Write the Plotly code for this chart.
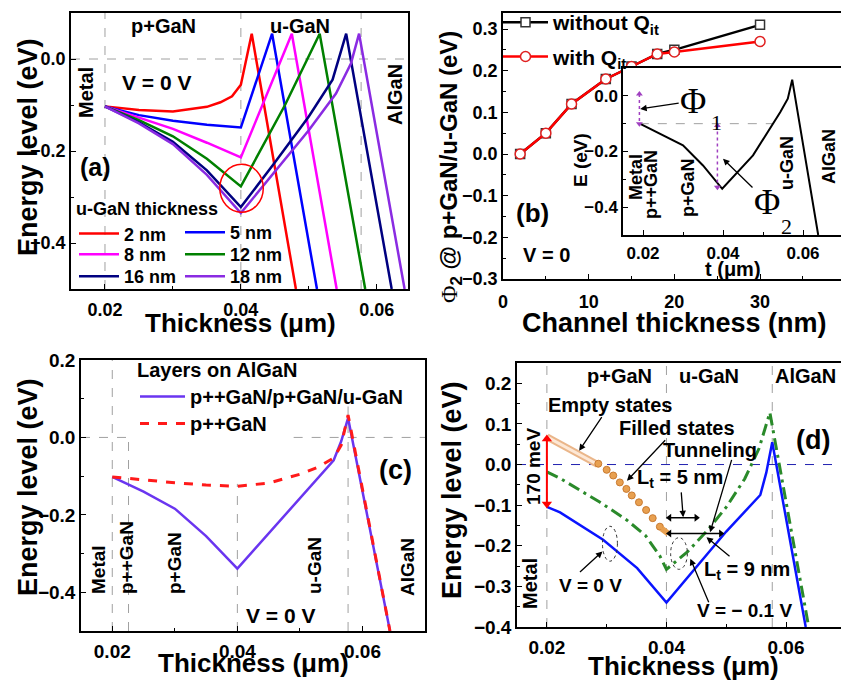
import plotly.graph_objects as go

W, H = 841, 681
FONT = "Liberation Sans, Arial, Helvetica, sans-serif"
SERIF = "Liberation Serif, Times New Roman, serif"

# ---------------- panel (a): band diagrams vs u-GaN thickness ----------------
a_x_2nm = [0.02, 0.025, 0.03, 0.035, 0.037, 0.0387, 0.04, 0.0416, 0.0481]
a_y_2nm = [-0.103, -0.111, -0.114, -0.104, -0.094, -0.081, -0.056, 0.055, -0.5]
a_x_5nm = [0.02, 0.025, 0.03, 0.035, 0.04, 0.0446, 0.0512]
a_y_5nm = [-0.103, -0.122, -0.134, -0.143, -0.149, 0.055, -0.5]
a_x_8nm = [0.02, 0.025, 0.03, 0.035, 0.04, 0.0475, 0.0541]
a_y_8nm = [-0.103, -0.127, -0.152, -0.182, -0.214, 0.055, -0.5]
a_x_12nm = [0.02, 0.025, 0.03, 0.035, 0.04, 0.0465, 0.0516, 0.0583]
a_y_12nm = [-0.103, -0.133, -0.168, -0.217, -0.277, -0.1, 0.055, -0.5]
a_x_16nm = [0.02, 0.025, 0.03, 0.035, 0.04, 0.045, 0.05, 0.0535, 0.0555, 0.0622]
a_y_16nm = [-0.103, -0.138, -0.18, -0.242, -0.322, -0.225, -0.125, -0.045, 0.055, -0.5]
a_x_18nm = [0.02, 0.025, 0.03, 0.035, 0.04, 0.045, 0.05, 0.054, 0.0562, 0.0574, 0.0641]
a_y_18nm = [-0.103, -0.14, -0.185, -0.252, -0.335, -0.245, -0.155, -0.075, -0.01, 0.055, -0.5]
a_labels = ["2 nm", "5 nm", "8 nm", "12 nm", "16 nm", "18 nm"]
a_colors = ["#ff0000", "#0000ff", "#ff00ff", "#008000", "#000080", "#8a2be2"]
a_boundaries = [0.02, 0.04, 0.0577]

# ---------------- panel (b): barrier vs channel thickness ----------------
b_thickness = [2, 5, 8, 12, 15, 18, 20, 30]
b_without_qit = [0.0, 0.05, 0.12, 0.18, 0.21, 0.24, 0.25, 0.31]
b_with_qit = [0.0, 0.05, 0.12, 0.18, 0.21, 0.24, 0.245, 0.27]

# inset of (b)
i_x = [0.0192, 0.0226, 0.03, 0.035, 0.0398, 0.0475, 0.0543, 0.0562, 0.0573, 0.0638]
i_y = [-0.1, -0.125, -0.178, -0.25, -0.334, -0.214, -0.059, -0.01, 0.058, -0.5]
i_boundaries = [0.0192, 0.0226, 0.04, 0.0573]
i_phi1_x = [0.0191, 0.0191]
i_phi1_y = [0.007, -0.1]
i_phi2_x = [0.0386, 0.0386]
i_phi2_y = [-0.107, -0.328]

# ---------------- panel (c): layer stacks ----------------
c_x_stack = [0.02, 0.025, 0.03, 0.035, 0.04, 0.05, 0.0554, 0.0566, 0.0577, 0.0644]
c_y_stack = [-0.102, -0.14, -0.184, -0.255, -0.339, -0.157, -0.059, -0.01, 0.05, -0.5]
c_x_pp = [0.02, 0.025, 0.03, 0.035, 0.04, 0.045, 0.05, 0.053, 0.0554, 0.0566, 0.0577, 0.0644]
c_y_pp = [-0.102, -0.11, -0.117, -0.123, -0.126, -0.118, -0.095, -0.076, -0.053, -0.02, 0.058, -0.5]

# ---------------- panel (d): bias dependence ----------------
d_x_v0 = [0.02, 0.0222, 0.0294, 0.0351, 0.04, 0.0445, 0.05, 0.0557, 0.0567, 0.0577, 0.0633]
d_y_v0 = [-0.104, -0.118, -0.185, -0.255, -0.34, -0.26, -0.165, -0.075, -0.02, 0.055, -0.4]
d_x_vm = [0.02, 0.0222, 0.0289, 0.0334, 0.0365, 0.0389, 0.04, 0.0435, 0.0468, 0.05, 0.0531, 0.0555, 0.0573, 0.0638]
d_y_vm = [-0.018, -0.034, -0.093, -0.137, -0.175, -0.225, -0.258, -0.215, -0.163, -0.105, -0.035, 0.04, 0.128, -0.4]
d_x_empty = [0.02, 0.0285]
d_y_empty = [0.068, 0.0]
d_x_filled = [0.0286, 0.0300, 0.0311, 0.0322, 0.0333, 0.0342, 0.0354, 0.0366, 0.0377, 0.0389]
d_y_filled = [0.002, -0.013, -0.027, -0.044, -0.060, -0.076, -0.093, -0.112, -0.132, -0.153]
d_x_filled_end = [0.0392, 0.0403]
d_y_filled_end = [-0.158, -0.17]
d_x_170mev = [0.02, 0.02]
d_y_170mev = [-0.097, 0.063]
d_x_lt9 = [0.0405, 0.0491]
d_y_lt9 = [-0.17, -0.17]
d_x_lt5 = [0.0405, 0.045]
d_y_lt5 = [-0.131, -0.131]

fig = go.Figure()

# (a) traces: each entry in its own small legend so rows can be spaced like the original
a_legends = ["legend", "legend2", "legend5", "legend6", "legend7", "legend8"]
a_sets = [(a_x_2nm, a_y_2nm), (a_x_5nm, a_y_5nm), (a_x_8nm, a_y_8nm),
          (a_x_12nm, a_y_12nm), (a_x_16nm, a_y_16nm), (a_x_18nm, a_y_18nm)]
for (xs, ys), nm, col, lg in zip(a_sets, a_labels, a_colors, a_legends):
    fig.add_trace(go.Scatter(x=xs, y=ys, mode="lines", name=nm,
                             line=dict(color=col, width=2.5), legend=lg,
                             xaxis="x", yaxis="y"))

# (b) traces
fig.add_trace(go.Scatter(x=b_thickness, y=b_without_qit, mode="lines+markers",
                         name="without Q<sub>it</sub>", legend="legend3", legendgroup="g1",
                         line=dict(color="black", width=2.5),
                         marker=dict(symbol="square", size=9, color="white",
                                     line=dict(color="#333333", width=1.5)),
                         xaxis="x2", yaxis="y2"))
fig.add_trace(go.Scatter(x=b_thickness, y=b_with_qit, mode="lines+markers",
                         name="with Q<sub>it</sub>", legend="legend3", legendgroup="g2",
                         line=dict(color="#ff0000", width=2.5),
                         marker=dict(symbol="circle", size=10, color="white",
                                     line=dict(color="#e02020", width=1.5)),
                         xaxis="x2", yaxis="y2"))
# inset
fig.add_trace(go.Scatter(x=i_x, y=i_y, mode="lines", showlegend=False,
                         line=dict(color="black", width=2), xaxis="x3", yaxis="y3"))
for xs, ys in [(i_phi1_x, i_phi1_y), (i_phi2_x, i_phi2_y)]:
    fig.add_trace(go.Scatter(x=xs, y=ys, mode="lines+markers", showlegend=False,
                             line=dict(color="#a040c0", width=1.5, dash="dot"),
                             marker=dict(symbol=["triangle-up", "triangle-down"], size=6,
                                         color="#a040c0"),
                             xaxis="x3", yaxis="y3"))

# (c) traces
fig.add_trace(go.Scatter(x=c_x_stack, y=c_y_stack, mode="lines", name="p++GaN/p+GaN/u-GaN",
                         legend="legend4", line=dict(color="#6a35f0", width=2.5),
                         xaxis="x4", yaxis="y4"))
fig.add_trace(go.Scatter(x=c_x_pp, y=c_y_pp, mode="lines", name="p++GaN",
                         legend="legend9", line=dict(color="#ff1a1a", width=3, dash="dash"),
                         xaxis="x4", yaxis="y4"))

# (d) traces
fig.add_trace(go.Scatter(x=d_x_vm, y=d_y_vm, mode="lines", showlegend=False,
                         line=dict(color="#2a8a2a", width=3, dash="12px,5px,3px,5px"),
                         xaxis="x5", yaxis="y5"))
fig.add_trace(go.Scatter(x=d_x_v0, y=d_y_v0, mode="lines", showlegend=False,
                         line=dict(color="#0a14ff", width=2.5), xaxis="x5", yaxis="y5"))
fig.add_trace(go.Scatter(x=d_x_empty, y=d_y_empty, mode="lines", showlegend=False,
                         line=dict(color="#eab68a", width=7), xaxis="x5", yaxis="y5"))
fig.add_trace(go.Scatter(x=d_x_empty, y=d_y_empty, mode="lines", showlegend=False,
                         line=dict(color="#fde8d6", width=3), xaxis="x5", yaxis="y5"))
fig.add_trace(go.Scatter(x=d_x_filled, y=d_y_filled, mode="markers", showlegend=False,
                         marker=dict(size=7, color="#e8a050", line=dict(color="#c97a30", width=1)),
                         xaxis="x5", yaxis="y5"))
fig.add_trace(go.Scatter(x=d_x_filled_end, y=d_y_filled_end, mode="lines", showlegend=False,
                         line=dict(color="#e8a050", width=6), xaxis="x5", yaxis="y5"))
fig.add_trace(go.Scatter(x=d_x_170mev, y=d_y_170mev, mode="lines+markers", showlegend=False,
                         line=dict(color="#ff0000", width=2),
                         marker=dict(symbol=["triangle-down", "triangle-up"], size=9, color="#ff0000"),
                         xaxis="x5", yaxis="y5"))
for xs, ys in [(d_x_lt9, d_y_lt9), (d_x_lt5, d_y_lt5)]:
    fig.add_trace(go.Scatter(x=xs, y=ys, mode="lines+markers", showlegend=False,
                             line=dict(color="black", width=1.5),
                             marker=dict(symbol=["triangle-left", "triangle-right"], size=7,
                                         color="black"),
                             xaxis="x5", yaxis="y5"))


def axis(domain, rng, anchor, tick0, dtick, fmt, mdtick, size=18, standoff=0):
    d = dict(domain=domain, range=rng, anchor=anchor, tickmode="linear", tick0=tick0,
             dtick=dtick, tickformat=fmt, showline=True, mirror=True, linecolor="black",
             linewidth=1.5, ticks="inside", ticklen=5, tickwidth=1.3, tickcolor="black",
             showgrid=False, zeroline=False,
             tickfont=dict(family=FONT, size=size, color="black", weight="bold"),
             minor=dict(dtick=mdtick, tick0=tick0, ticks="inside", ticklen=3,
                        tickwidth=1, tickcolor="black", showgrid=False))
    if standoff:
        d["ticklabelstandoff"] = standoff
    return d


def dx(x0, x1):
    return [x0 / W, x1 / W]


def dy(y0, y1):
    return [1 - y1 / H, 1 - y0 / H]


GRAY = dict(color="#a0a0a0", width=1, dash="dash")
shapes = []
for xv in a_boundaries:
    shapes.append(dict(type="line", xref="x", yref="y domain", x0=xv, x1=xv, y0=0, y1=1,
                       line=GRAY, layer="below"))
shapes.append(dict(type="line", xref="x domain", yref="y", x0=0, x1=1, y0=0, y1=0,
                   line=GRAY, layer="below"))
shapes.append(dict(type="circle", xref="x", yref="y", x0=0.0369, x1=0.0433, y0=-0.333, y1=-0.229,
                   line=dict(color="#ff0000", width=1.5)))
for xv in i_boundaries:
    shapes.append(dict(type="line", xref="x3", yref="y3 domain", x0=xv, x1=xv, y0=0, y1=1,
                       line=GRAY, layer="below"))
shapes.append(dict(type="line", xref="x3 domain", yref="y3", x0=0, x1=1, y0=0, y1=0,
                   line=GRAY, layer="below"))
shapes.append(dict(type="line", xref="x3", yref="y3", x0=0.0192, x1=0.0525, y0=-0.1, y1=-0.1,
                   line=GRAY, layer="below"))
# (c) guides
shapes.append(dict(type="line", xref="x4", yref="y4", x0=0.02, x1=0.02, y0=-0.5, y1=0.2, line=GRAY, layer="below"))
shapes.append(dict(type="line", xref="x4", yref="y4", x0=0.0226, x1=0.0226, y0=-0.5, y1=0.0, line=GRAY, layer="below"))
shapes.append(dict(type="line", xref="x4", yref="y4", x0=0.04, x1=0.04, y0=-0.5, y1=-0.12, line=GRAY, layer="below"))
shapes.append(dict(type="line", xref="x4", yref="y4", x0=0.0577, x1=0.0577, y0=-0.5, y1=0.08, line=GRAY, layer="below"))
shapes.append(dict(type="line", xref="x4", yref="y4", x0=0.015, x1=0.0233, y0=0, y1=0, line=GRAY, layer="below"))
shapes.append(dict(type="line", xref="x4", yref="y4", x0=0.049, x1=0.07, y0=0, y1=0, line=GRAY, layer="below"))
# (d) guides
for xv in [0.02, 0.04, 0.0577]:
    shapes.append(dict(type="line", xref="x5", yref="y5 domain", x0=xv, x1=xv, y0=0, y1=1,
                       line=GRAY, layer="below"))
shapes.append(dict(type="line", xref="x5 domain", yref="y5", x0=0, x1=1, y0=0, y1=0,
                   line=dict(color="#2020b0", width=1, dash="dash"), layer="below"))
shapes.append(dict(type="circle", xref="x5", yref="y5", x0=0.0293, x1=0.0318, y0=-0.238, y1=-0.152,
                   line=dict(color="#333333", width=1, dash="dot")))
shapes.append(dict(type="circle", xref="x5", yref="y5", x0=0.0407, x1=0.0435, y0=-0.258, y1=-0.180,
                   line=dict(color="#333333", width=1, dash="dot")))


def fnt(size, family=FONT, bold=True, color="black"):
    return dict(family=family, size=size, color=color, weight="bold" if bold else "normal")


def txt(s, x, y, size, rot=0, family=FONT, bold=True):
    return dict(text=s, x=x / W, y=1 - y / H, xref="paper", yref="paper", xanchor="center",
                yanchor="middle", showarrow=False, textangle=rot, font=fnt(size, family, bold))


def labarrow(s, xr, yr, tipx, tipy, tip_px, center_px, size, family=FONT, bold=True):
    # label placed at center_px, arrow from label to the data point (tipx, tipy)
    return dict(text=s, xref=xr, yref=yr, x=tipx, y=tipy,
                ax=center_px[0] - tip_px[0], ay=center_px[1] - tip_px[1], showarrow=True,
                arrowhead=2, arrowsize=1, arrowwidth=1.3, arrowcolor="black",
                font=fnt(size, family, bold))


def arrow(xr, yr, x, y, ax, ay):
    return dict(text="", xref=xr, yref=yr, x=x, y=y, ax=ax, ay=ay, showarrow=True,
                arrowhead=2, arrowsize=1, arrowwidth=1.3, arrowcolor="black")


PHI = '<span style="font-family:Liberation Serif;font-weight:normal">Φ</span>'
anns = [
    # (a)
    txt("p+GaN", 163, 26, 20), txt("u-GaN", 300, 26, 20), txt("V = 0 V", 156, 82, 21),
    txt("Metal", 86, 93, 20, -90), txt("AlGaN", 395, 95, 20, -90), txt("(a)", 95, 167, 25),
    txt("Thickness (μm)", 240, 323, 26), txt("Energy level (eV)", 28, 147, 27, -90),
    # (b)
    txt("(b)", 532, 213, 26), txt("V = 0", 546, 255, 20),
    txt("Channel thickness (nm)", 674, 323, 27),
    txt(PHI + "<sub>2</sub> @ p+GaN/u-GaN (eV)", 450, 167, 24, -90),
    # inset
    labarrow("Φ", "x3", "y3", 0.0193, -0.047, (640, 110), (693, 102), 36, SERIF, False),
    txt("1", 716, 122, 22, family=SERIF, bold=False),
    labarrow("Φ", "x3", "y3", 0.04, -0.226, (723, 160), (767, 203), 36, SERIF, False),
    txt("2", 786, 226, 22, family=SERIF, bold=False),
    txt("Metal", 636, 177, 18, -90), txt("p++GaN", 651, 185, 18, -90), txt("p+GaN", 688, 188, 18, -90),
    txt("u-GaN", 787, 163, 18, -90), txt("AlGaN", 829, 157, 18, -90),
    txt("E (eV)", 580, 160, 19, -90), txt("t (μm)", 733, 269, 20),
    # (c)
    txt("Metal", 98, 570, 19, -90), txt("p++GaN", 126, 557, 19, -90), txt("p+GaN", 174, 563, 19, -90),
    txt("u-GaN", 314, 566, 19, -90), txt("AlGaN", 407, 567, 19, -90),
    txt("V = 0 V", 280, 615, 21), txt("(c)", 395, 470, 27),
    txt("Thickness (μm)", 253, 663, 26), txt("Energy level (eV)", 28, 487, 27, -90),
    # (d)
    txt("p+GaN", 619, 376, 20), txt("u-GaN", 709, 376, 20), txt("AlGaN", 805, 376, 20),
    labarrow("Empty states", "x5", "y5", 0.0254, 0.034, (579, 450), (610, 404), 20),
    labarrow("Filled states", "x5", "y5", 0.0334, -0.04, (627, 480), (677, 427), 20),
    txt("Tunneling", 710, 450, 20),
    labarrow("L<sub>t</sub> = 5 nm", "x5", "y5", 0.0428, -0.13, (683, 517), (680, 478), 20),
    labarrow("L<sub>t</sub> = 9 nm", "x5", "y5", 0.0467, -0.179, (707, 537), (747, 570), 20),
    txt("V = 0 V", 590, 585, 19), txt("V = − 0.1 V", 744, 610, 19), txt("(d)", 813, 440, 27),
    txt("170 meV", 533, 467, 19, -90), txt("Metal", 530, 584, 20, -90),
    txt("Thickness (μm)", 683, 666, 26), txt("Energy level (eV)", 452, 490, 27, -90),
    # pointers whose tails sit off the label centre
    arrow("x5", "y5", 0.0473, -0.167, 22, -74),
    arrow("x5", "y5", 0.0293, -0.214, -24, 22),
    arrow("x5", "y5", 0.044, -0.232, 19, 45),
]


def leg(x_px, top_px, size=18, title=None):
    d = dict(x=x_px / W, y=1 - top_px / H, xanchor="left", yanchor="top",
             bgcolor="rgba(0,0,0,0)", font=fnt(size), itemwidth=40, tracegroupgap=0)
    if title:
        d["title"] = dict(text=title, font=fnt(size))
    return d


fig.update_layout(
    width=W, height=H, margin=dict(l=0, r=0, t=0, b=0, autoexpand=False),
    paper_bgcolor="white", plot_bgcolor="white", showlegend=True,
    xaxis=axis(dx(71, 408), [0.015, 0.0646], "y", 0.02, 0.02, ".2f", 0.01, 18, 4),
    yaxis=axis(dy(13, 289), [-0.5, 0.1], "x", 0, 0.2, ".1f", 0.1),
    xaxis2=axis(dx(503, 841), [0, 39.45], "y2", 0, 10, "d", 5, 18, 6),
    yaxis2=axis(dy(13, 279), [-0.3, 0.3384], "x2", 0, 0.1, ".1f", 0.05),
    xaxis3=axis(dx(623, 841), [0.015, 0.0695], "y3", 0.02, 0.02, ".2f", 0.01, 17, 2),
    yaxis3=axis(dy(68, 235), [-0.5, 0.1], "x3", 0, 0.2, ".1f", 0.1, 17),
    xaxis4=axis(dx(81, 425), [0.015, 0.07], "y4", 0.02, 0.02, ".2f", 0.01, 19, 2),
    yaxis4=axis(dy(360, 631), [-0.5, 0.2], "x4", 0, 0.2, ".1f", 0.1, 19),
    xaxis5=axis(dx(517, 841), [0.015, 0.0692], "y5", 0.02, 0.02, ".2f", 0.01, 19, 2),
    yaxis5=axis(dy(363, 627), [-0.4, 0.25], "x5", 0, 0.1, ".1f", 0.05, 19),
    legend=leg(74, 192, title="u-GaN thickness"),
    legend2=leg(180, 214),
    legend5=leg(74, 236),
    legend6=leg(180, 236),
    legend7=leg(74, 258),
    legend8=leg(180, 258),
    legend3=dict(x=498 / W, y=1 - 2 / H, xanchor="left", yanchor="top", bgcolor="rgba(0,0,0,0)",
                 font=fnt(21), itemwidth=45, tracegroupgap=4),
    legend4=dict(x=135 / W, y=1 - 351 / H, xanchor="left", yanchor="top", bgcolor="rgba(0,0,0,0)",
                 font=fnt(20), title=dict(text="Layers on AlGaN", font=fnt(20)),
                 itemwidth=45, tracegroupgap=0),
    legend9=dict(x=135 / W, y=1 - 404 / H, xanchor="left", yanchor="top", bgcolor="rgba(0,0,0,0)",
                 font=fnt(20), itemwidth=45, tracegroupgap=0),
    shapes=shapes, annotations=anns,
)

fig.write_html("out.html")
